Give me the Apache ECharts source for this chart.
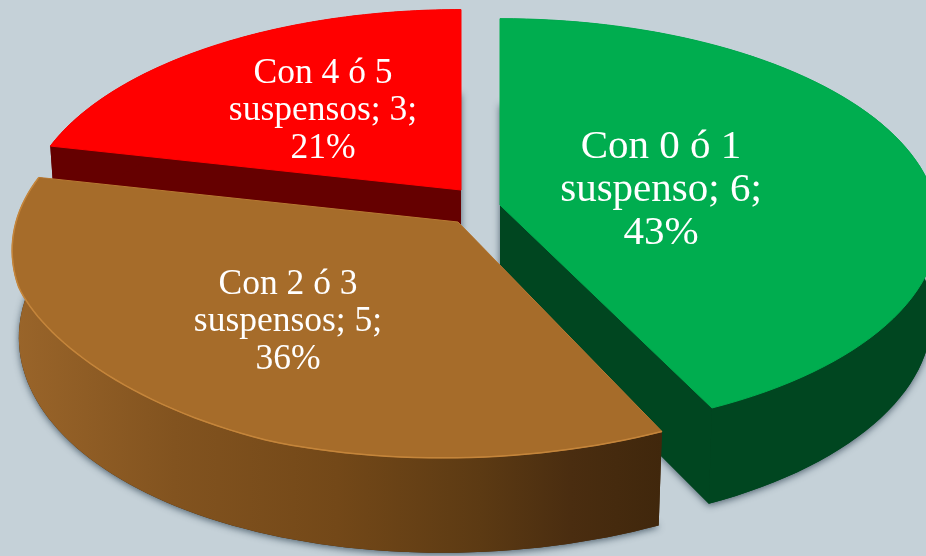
<!DOCTYPE html>
<html>
<head>
<meta charset="utf-8">
<style>html,body{margin:0;padding:0;background:#c5d1d8}#main{width:926px;height:556px}</style>
<script src="https://cdn.jsdelivr.net/npm/echarts@6/dist/echarts.min.js"></script>
</head>
<body>
<div id="main"></div>
<script>
// datos
var categorias = ['Con 0 ó 1\nsuspenso', 'Con 2 ó 3\nsuspensos', 'Con 4 ó 5\nsuspensos'];
var valores = [6, 5, 3];

// geometria de cada porcion: vertice, radios y perspectiva
var vertices = [[500, 205], [458, 222], [461, 190]];
var radiosX = [436, 442, 433];
var radiosY = [205, 206, 203];
var perspectiva = [0.1, 0.1265, 0.125];
var sesgo = [-5, 15.4, 0];
var aplanado = [0, 8, 0];
var profundidades = [90, 86, 90];
var etiquetas = [[661, 190], [288, 322], [323, 111]];
var tamanos = [41, 35.5, 35.5];
var orden = [2, 3, 1];

var coloresCara = ['#00ad4f', '#a66c2a', '#ff0000'];
var coloresBorde = ['#00ad4f', '#b97932', '#ff0000'];
var coloresLado = ['#004620',
  new echarts.graphic.LinearGradient(0, 0, 1, 0, [
    {offset: 0, color: '#9a652a'},
    {offset: 0.25, color: '#82531f'},
    {offset: 0.5, color: '#734818'},
    {offset: 0.72, color: '#5c3a13'},
    {offset: 0.86, color: '#4a2d10'},
    {offset: 1, color: '#40270c'}
  ]),
  '#650000'];

var total = valores.reduce(function (a, b) { return a + b; }, 0);

function proyectar(i, ang, r, abajo) {
  var X = r * Math.sin(ang), Y = r * Math.cos(ang);
  var w = 1 + perspectiva[i] * Y;
  var esc = abajo ? 0.985 : 1;
  var corrimiento = Y < 0 ? -sesgo[i] * Y * Y : 0;
  // el canto superior de la porcion marron va algo mas plano a la izquierda
  var t = (Y + 0.62) / 0.32;
  var subida = !abajo && X < 0 && Math.abs(t) < 1 ? aplanado[i] * (1 - t * t) : 0;
  return [
    vertices[i][0] + X * radiosX[i] * esc / w + corrimiento,
    vertices[i][1] + (-Y * radiosY[i] * esc + (abajo ? profundidades[i] : 0)) / w - subida
  ];
}

function arco(i, a0, a1, abajo) {
  var pts = [];
  for (var n = 0; n <= 80; n++) {
    pts.push(proyectar(i, a0 + (a1 - a0) * n / 80, 1, abajo));
  }
  return pts;
}

function renderItem(params, api) {
  var i = params.dataIndex;
  var antes = 0;
  for (var j = 0; j < i; j++) antes += valores[j];
  var a0 = antes / total * Math.PI * 2;
  var a1 = (antes + api.value(0)) / total * Math.PI * 2;
  var z = orden[i] * 10;

  var arcoArriba = arco(i, a0, a1, false);
  var arcoAbajo = arco(i, a0, a1, true);
  var vArriba = proyectar(i, 0, 0, false);
  var vAbajo = proyectar(i, 0, 0, true);
  var pct = Math.round(api.value(0) / total * 100);
  var lado = coloresLado[i];
  var plano = i == 1 ? '#40270c' : lado;

  var hijos = [
    { // base con la sombra
      type: 'polygon', z2: z,
      shape: {points: [vAbajo].concat(arcoAbajo)},
      style: {fill: plano, shadowBlur: 7, shadowOffsetY: 2, shadowColor: 'rgba(45,65,80,0.75)'}
    },
    { // cara de corte inicial
      type: 'polygon', z2: z + 1,
      shape: {points: [vArriba, arcoArriba[0], arcoAbajo[0], vAbajo]},
      style: {fill: plano}
    },
    { // cara de corte final
      type: 'polygon', z2: z + 1,
      shape: {points: [vArriba, arcoArriba[80], arcoAbajo[80], vAbajo]},
      style: {fill: plano}
    },
    { // borde curvo
      type: 'polygon', z2: z + 2,
      shape: {points: arcoArriba.concat(arcoAbajo.slice().reverse())},
      style: {fill: lado}
    },
    { // cara superior
      type: 'polygon', z2: z + 3,
      shape: {points: [vArriba].concat(arcoArriba)},
      style: {fill: coloresCara[i], stroke: coloresBorde[i], lineWidth: 1}
    },
    {
      type: 'text', z2: 100,
      x: etiquetas[i][0], y: etiquetas[i][1],
      style: {
        text: categorias[i] + '; ' + api.value(0) + ';\n' + pct + '%',
        fill: '#ffffff',
        align: 'center', verticalAlign: 'middle',
        font: tamanos[i] + 'px Georgia, "Liberation Serif", serif',
        lineHeight: tamanos[i] * 1.05
      }
    }
  ];
  if (i == 1) {
    // brillo del canto
    hijos.push({
      type: 'polyline', z2: z + 4,
      shape: {points: arcoArriba},
      style: {fill: null, stroke: '#c4853b', lineWidth: 1.5}
    });
  }
  return {type: 'group', children: hijos};
}

var chart = echarts.init(document.getElementById('main'));
var option = {
  backgroundColor: '#c5d1d8',
  animation: false,
  series: [{
    type: 'custom',
    coordinateSystem: 'none',
    renderItem: renderItem,
    clip: false,
    data: valores.map(function (v, i) { return {name: categorias[i], value: [v]}; })
  }]
};
chart.setOption(option);
</script>
</body>
</html>
